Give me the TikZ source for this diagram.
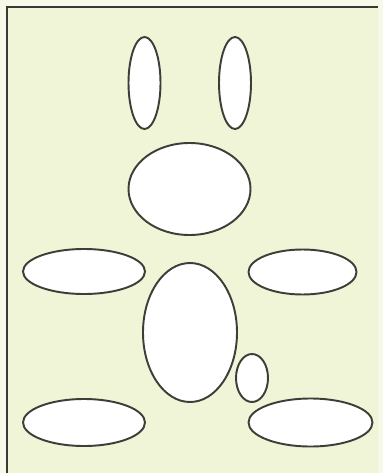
\documentclass[tikz,border=0pt]{standalone}
\usepackage{tikz}
\definecolor{fondo}{RGB}{240,245,216}
\definecolor{borde}{RGB}{55,58,50}
\definecolor{trazo}{RGB}{60,62,55}
\begin{document}
\begin{tikzpicture}[x=0.02cm, y=-0.02cm,
    pieza/.style={draw=trazo, fill=white, line width=1.1pt}]
    % 1. MARCO Y FONDO
    \useasboundingbox (0,0) rectangle (383,473);
    \fill[fondo!60!white] (0,0) rectangle (383,473);
    \fill[fondo] (7,7) rectangle (378,473);
    \draw[borde, line width=1.2pt] (7,473) -- (7,7) -- (378,7);

    % 2. OREJAS
    \draw[pieza] (144.5,83) ellipse (16 and 46);
    \draw[pieza] (235,83) ellipse (16 and 46);

    % 3. CABEZA
    \draw[pieza] (189.5,189) ellipse (61 and 46);

    % 4. BRAZOS
    \draw[pieza] (84,271.5) ellipse (61 and 22.5);
    \draw[pieza] (302.5,272) ellipse (54 and 22.5);

    % 5. CUERPO Y COLA
    \draw[pieza] (190,332.5) ellipse (47 and 69.5);
    \draw[pieza] (252,378) ellipse (16 and 24);

    % 6. PIES
    \draw[pieza] (84,422.5) ellipse (61 and 23.5);
    \draw[pieza] (310.5,422.5) ellipse (62 and 24);
\end{tikzpicture}
\end{document}
